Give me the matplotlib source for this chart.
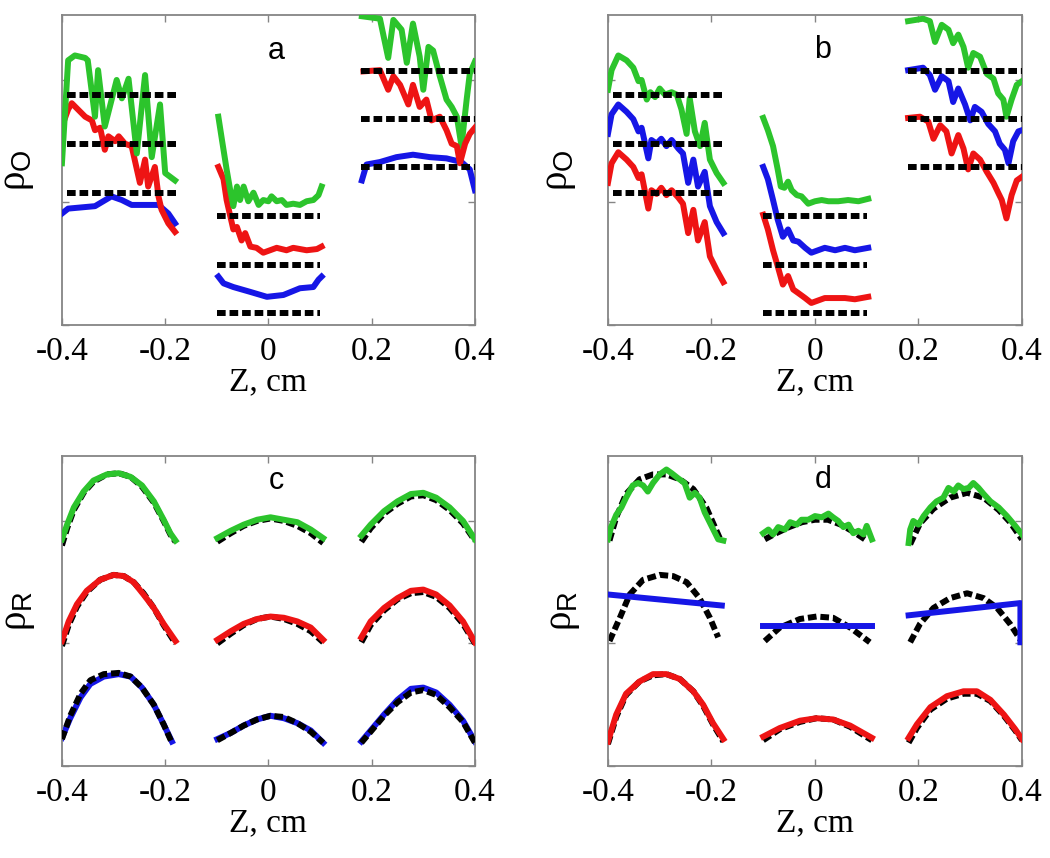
import matplotlib
matplotlib.use("Agg")
import matplotlib.pyplot as plt

plt.rcParams["font.family"] = ["Liberation Serif", "DejaVu Serif"]
plt.rcParams["mathtext.fontset"] = "custom"
plt.rcParams["mathtext.sf"] = "Liberation Sans"
plt.rcParams["mathtext.rm"] = "Liberation Serif"

# ── colours / axis ticks ──────────────────────────────────────────────────────
GREEN = "#2cc42c"
RED = "#ee1414"
BLUE = "#1616e6"
FRAME = "#858585"

Z_TICKS = [-0.4, -0.2, 0.0, 0.2, 0.4]
Z_TICK_LABELS = ["-0.4", "-0.2", "0", "0.2", "0.4"]

# ── dashed reference levels (panels a, b) ────────────────────────────────────
DASH_LEFT_Z = [-0.39, -0.18]
DASH_MID_Z = [-0.10, 0.10]
DASH_RIGHT_Z = [0.18, 0.40]
LEVELS_LEFT = [1.88, 1.48, 1.08]
LEVELS_MID = [0.89, 0.49, 0.095]
LEVELS_RIGHT = [2.07, 1.68, 1.29]

# ── panel a ──────────────────────────────────────────────────────────────────
a_green_left_z = [-0.400, -0.388, -0.375, -0.355, -0.350, -0.336, -0.330, -0.317, -0.294,
                  -0.284, -0.271, -0.255, -0.239, -0.226, -0.210, -0.200, -0.181]
a_green_left = [1.32, 2.16, 2.20, 2.18, 2.16, 1.70, 2.08, 1.62, 2.00,
                1.85, 2.01, 1.40, 2.04, 1.37, 1.80, 1.24, 1.18]
a_red_left_z = [-0.400, -0.388, -0.381, -0.355, -0.342, -0.336, -0.326, -0.317, -0.310, -0.297,
                -0.290, -0.278, -0.265, -0.249, -0.239, -0.233, -0.220, -0.213, -0.207, -0.194, -0.181]
a_red_left = [1.62, 1.76, 1.81, 1.70, 1.67, 1.59, 1.61, 1.43, 1.54, 1.50,
              1.54, 1.48, 1.46, 1.16, 1.35, 1.13, 1.29, 1.05, 0.94, 0.83, 0.76]
a_blue_left_z = [-0.400, -0.388, -0.336, -0.304, -0.284, -0.265, -0.213, -0.194, -0.181]
a_blue_left = [0.91, 0.95, 0.97, 1.05, 1.02, 0.98, 0.98, 0.91, 0.83]

a_green_mid_z = [-0.097, -0.090, -0.081, -0.074, -0.068, -0.061, -0.055, -0.048, -0.039, -0.029,
                 -0.019, -0.010, 0.000, 0.006, 0.016, 0.026, 0.035, 0.048, 0.061, 0.074,
                 0.087, 0.097, 0.103]
a_green_mid = [1.70, 1.51, 1.27, 1.10, 0.97, 1.13, 1.02, 1.13, 1.01, 1.08,
               0.98, 1.02, 1.01, 1.05, 1.01, 1.02, 0.98, 0.99, 0.98, 1.01,
               1.02, 1.06, 1.13]
a_red_mid_z = [-0.097, -0.087, -0.081, -0.074, -0.068, -0.061, -0.052, -0.045, -0.035,
               -0.023, -0.010, 0.003, 0.016, 0.035, 0.048, 0.074, 0.094, 0.103]
a_red_mid = [1.29, 1.19, 1.02, 0.89, 0.78, 0.80, 0.69, 0.75, 0.64,
             0.63, 0.59, 0.61, 0.63, 0.61, 0.63, 0.61, 0.62, 0.64]
a_blue_mid_z = [-0.097, -0.087, -0.068, -0.035, -0.003, 0.029, 0.061, 0.087, 0.097, 0.103]
a_blue_mid = [0.395, 0.34, 0.31, 0.27, 0.23, 0.245, 0.30, 0.31, 0.37, 0.395]

a_green_right_z = [0.181, 0.216, 0.232, 0.242, 0.258, 0.268, 0.280, 0.293, 0.300, 0.310,
                   0.319, 0.332, 0.345, 0.355, 0.365, 0.374, 0.384, 0.390, 0.400]
a_green_right = [2.52, 2.50, 2.18, 2.49, 2.41, 2.14, 2.46, 2.19, 1.92, 2.27,
                 2.24, 2.03, 1.84, 1.78, 1.70, 1.46, 1.84, 2.05, 2.15]
a_red_right_z = [0.184, 0.216, 0.232, 0.242, 0.255, 0.271, 0.280, 0.293, 0.306, 0.316,
                 0.332, 0.345, 0.355, 0.365, 0.371, 0.381, 0.390, 0.400]
a_red_right = [2.07, 2.08, 1.92, 2.03, 1.96, 1.80, 1.96, 1.78, 1.84, 1.67,
               1.70, 1.59, 1.48, 1.46, 1.32, 1.48, 1.56, 1.61]
a_blue_right_z = [0.181, 0.190, 0.216, 0.248, 0.280, 0.313, 0.345, 0.374, 0.390, 0.400]
a_blue_right = [1.18, 1.31, 1.33, 1.37, 1.39, 1.37, 1.36, 1.33, 1.27, 1.10]

# ── panel b ──────────────────────────────────────────────────────────────────
b_green_left_z = [-0.400, -0.393, -0.380, -0.364, -0.351, -0.341, -0.335, -0.325, -0.318, -0.309,
                  -0.300, -0.290, -0.277, -0.267, -0.258, -0.248, -0.242, -0.232, -0.222, -0.213,
                  -0.203, -0.190, -0.177]
b_green_left = [1.92, 2.08, 2.20, 2.16, 2.10, 1.99, 2.00, 1.84, 1.90, 1.86,
                1.93, 1.88, 1.90, 1.88, 1.76, 1.56, 1.85, 1.58, 1.46, 1.65,
                1.35, 1.24, 1.16]
b_left_z = [-0.400, -0.393, -0.380, -0.364, -0.351, -0.341, -0.335, -0.322, -0.316, -0.306, -0.297,
            -0.287, -0.277, -0.264, -0.255, -0.245, -0.235, -0.226, -0.213, -0.203, -0.190, -0.177]
b_blue_left = [1.56, 1.72, 1.80, 1.74, 1.68, 1.58, 1.61, 1.36, 1.51, 1.48, 1.52,
               1.46, 1.51, 1.44, 1.40, 1.16, 1.35, 1.13, 1.25, 0.97, 0.84, 0.75]
b_red_left = [1.16, 1.32, 1.41, 1.35, 1.29, 1.20, 1.23, 0.95, 1.10, 1.07, 1.12,
              1.06, 1.10, 1.04, 0.99, 0.75, 0.94, 0.69, 0.84, 0.56, 0.45, 0.35]

b_green_mid_z = [-0.100, -0.091, -0.081, -0.072, -0.066, -0.059, -0.052, -0.045, -0.035,
                 -0.026, -0.013, 0.000, 0.013, 0.026, 0.045, 0.064, 0.084, 0.103]
b_green_mid = [1.69, 1.59, 1.46, 1.27, 1.13, 1.12, 1.17, 1.10, 1.06,
               1.05, 0.99, 1.01, 1.02, 1.01, 1.01, 1.02, 1.01, 1.03]
b_mid_z = [-0.100, -0.091, -0.081, -0.072, -0.062, -0.052, -0.042, -0.032,
           -0.019, -0.007, 0.006, 0.019, 0.039, 0.058, 0.077, 0.103]
b_blue_mid = [1.29, 1.19, 1.02, 0.86, 0.72, 0.78, 0.69, 0.68,
              0.63, 0.59, 0.61, 0.63, 0.61, 0.63, 0.61, 0.63]
b_red_mid = [0.90, 0.78, 0.61, 0.48, 0.33, 0.40, 0.29, 0.26,
             0.22, 0.18, 0.20, 0.22, 0.22, 0.22, 0.21, 0.23]

b_green_right_z = [0.180, 0.209, 0.222, 0.232, 0.245, 0.258, 0.267, 0.277, 0.287, 0.296,
                   0.306, 0.319, 0.332, 0.345, 0.354, 0.364, 0.370, 0.380, 0.390, 0.400]
b_green_right = [2.48, 2.50, 2.48, 2.31, 2.45, 2.41, 2.30, 2.37, 2.27, 2.10,
                 2.22, 2.19, 2.05, 2.01, 1.89, 1.84, 1.70, 1.84, 1.96, 1.99]
b_blue_right_z = [0.180, 0.209, 0.222, 0.232, 0.245, 0.258, 0.267, 0.277, 0.290, 0.300,
                  0.309, 0.322, 0.335, 0.348, 0.357, 0.367, 0.374, 0.383, 0.393, 0.400]
b_blue_right = [2.08, 2.10, 2.04, 1.92, 2.03, 1.99, 1.82, 1.93, 1.80, 1.67,
                1.78, 1.74, 1.64, 1.58, 1.48, 1.43, 1.32, 1.50, 1.58, 1.59]
b_red_right_z = [0.180, 0.203, 0.219, 0.229, 0.242, 0.254, 0.264, 0.277, 0.287, 0.296,
                 0.306, 0.319, 0.332, 0.345, 0.354, 0.361, 0.370, 0.380, 0.390, 0.400]
b_red_right = [1.69, 1.70, 1.66, 1.52, 1.63, 1.58, 1.40, 1.55, 1.44, 1.27,
               1.40, 1.35, 1.25, 1.16, 1.08, 1.02, 0.87, 1.06, 1.18, 1.21]

# ── panel c (measured, fit) ──────────────────────────────────────────────────
c_green_left_z = [-0.400, -0.390, -0.377, -0.358, -0.339, -0.313, -0.290, -0.267, -0.245,
                  -0.222, -0.203, -0.190, -0.180]
c_green_left = [1.85, 1.97, 2.11, 2.24, 2.33, 2.38, 2.39, 2.36, 2.29, 2.16, 2.01, 1.90, 1.84]
c_green_left_fit = [1.80, 1.94, 2.09, 2.23, 2.32, 2.38, 2.39, 2.36, 2.28, 2.15, 2.00, 1.89, 1.83]
c_red_left_z = [-0.400, -0.387, -0.371, -0.352, -0.326, -0.300, -0.280, -0.261, -0.242,
                -0.222, -0.203, -0.180]
c_red_left = [1.02, 1.18, 1.32, 1.43, 1.52, 1.56, 1.55, 1.50, 1.40, 1.29, 1.16, 1.02]
c_red_left_fit = [0.98, 1.15, 1.30, 1.42, 1.52, 1.56, 1.55, 1.50, 1.41, 1.29, 1.15, 1.00]
c_blue_left_z = [-0.400, -0.384, -0.364, -0.345, -0.319, -0.290, -0.267, -0.245, -0.222,
                 -0.203, -0.187]
c_blue_left = [0.23, 0.39, 0.56, 0.67, 0.73, 0.75, 0.73, 0.64, 0.50, 0.34, 0.20]
c_blue_left_fit = [0.22, 0.41, 0.59, 0.70, 0.75, 0.76, 0.73, 0.64, 0.50, 0.34, 0.19]

c_mid_z = [-0.099, -0.073, -0.048, -0.022, 0.004, 0.030, 0.056, 0.082, 0.106]
c_green_mid = [1.86, 1.92, 1.97, 2.01, 2.03, 2.01, 1.99, 1.93, 1.86]
c_green_mid_fit = [1.83, 1.90, 1.96, 2.00, 2.02, 2.00, 1.96, 1.90, 1.82]
c_red_mid = [1.03, 1.10, 1.16, 1.20, 1.22, 1.21, 1.18, 1.13, 1.03]
c_red_mid_fit = [1.00, 1.08, 1.15, 1.20, 1.22, 1.20, 1.16, 1.10, 1.01]
c_blue_mid = [0.22, 0.27, 0.33, 0.38, 0.41, 0.39, 0.35, 0.29, 0.19]
c_blue_mid_fit = [0.21, 0.27, 0.33, 0.38, 0.41, 0.40, 0.35, 0.28, 0.19]

c_right_z = [0.180, 0.198, 0.224, 0.250, 0.276, 0.300, 0.325, 0.351, 0.377, 0.400]
c_green_right = [1.88, 1.97, 2.08, 2.16, 2.22, 2.23, 2.19, 2.11, 2.00, 1.85]
c_green_right_fit = [1.83, 1.94, 2.06, 2.14, 2.20, 2.21, 2.17, 2.09, 1.98, 1.84]
c_red_right = [1.05, 1.18, 1.29, 1.37, 1.43, 1.44, 1.40, 1.31, 1.18, 1.01]
c_red_right_fit = [1.01, 1.15, 1.27, 1.36, 1.41, 1.42, 1.38, 1.29, 1.16, 1.00]
c_blue_right = [0.20, 0.29, 0.42, 0.54, 0.63, 0.64, 0.60, 0.50, 0.37, 0.20]
c_blue_right_fit = [0.19, 0.28, 0.41, 0.52, 0.60, 0.62, 0.58, 0.48, 0.36, 0.19]

# ── panel d (measured, fit) ──────────────────────────────────────────────────
d_green_left_z = [-0.400, -0.394, -0.384, -0.374, -0.365, -0.352, -0.342, -0.332, -0.323, -0.313,
                  -0.300, -0.287, -0.277, -0.265, -0.252, -0.242, -0.232, -0.223, -0.213, -0.200,
                  -0.187, -0.177]
d_green_left = [1.85, 1.95, 2.05, 2.11, 2.19, 2.29, 2.31, 2.29, 2.24, 2.31,
                2.38, 2.42, 2.39, 2.35, 2.31, 2.19, 2.23, 2.19, 2.07, 1.96,
                1.85, 1.84]
d_green_left_fit_z = [-0.397, -0.384, -0.365, -0.339, -0.313, -0.287, -0.261, -0.235, -0.210, -0.184]
d_green_left_fit = [1.84, 2.03, 2.22, 2.34, 2.38, 2.38, 2.34, 2.26, 2.11, 1.86]

d_green_mid_z = [-0.100, -0.090, -0.081, -0.071, -0.058, -0.048, -0.035, -0.026, -0.013, 0.000,
                 0.013, 0.026, 0.035, 0.045, 0.055, 0.065, 0.074, 0.084, 0.094, 0.100, 0.110]
d_green_mid = [1.90, 1.93, 1.89, 1.95, 1.93, 1.99, 1.97, 2.01, 2.01, 2.04,
               2.03, 2.06, 2.03, 2.00, 1.95, 1.97, 1.90, 1.92, 1.89, 1.96, 1.85]
d_green_mid_fit_z = [-0.097, -0.075, -0.050, -0.025, 0.000, 0.025, 0.050, 0.075, 0.100]
d_green_mid_fit = [1.85, 1.90, 1.95, 1.99, 2.01, 2.01, 1.97, 1.91, 1.84]

d_green_right_z = [0.181, 0.184, 0.190, 0.200, 0.210, 0.223, 0.235, 0.248, 0.258, 0.268, 0.277,
                   0.287, 0.297, 0.306, 0.316, 0.326, 0.339, 0.355, 0.371, 0.387, 0.400]
d_green_right = [1.82, 1.93, 2.00, 1.97, 2.04, 2.11, 2.16, 2.19, 2.27, 2.24, 2.29,
                 2.26, 2.27, 2.31, 2.27, 2.22, 2.16, 2.11, 2.04, 1.96, 1.89]
d_green_right_fit_z = [0.184, 0.203, 0.229, 0.261, 0.294, 0.326, 0.355, 0.377, 0.400]
d_green_right_fit = [1.81, 1.98, 2.10, 2.19, 2.23, 2.19, 2.09, 1.99, 1.85]

d_blue_left_z = [-0.400, -0.180]
d_blue_left = [1.40, 1.31]
d_blue_mid_z = [-0.100, 0.110]
d_blue_mid = [1.14, 1.14]
d_blue_right_z = [0.181, 0.397, 0.397]
d_blue_right = [1.23, 1.33, 1.01]

d_blue_left_fit_z = [-0.397, -0.377, -0.358, -0.332, -0.300, -0.274, -0.248, -0.223, -0.203, -0.187]
d_blue_left_fit = [1.02, 1.21, 1.40, 1.52, 1.56, 1.55, 1.50, 1.37, 1.21, 1.05]
d_blue_mid_fit_z = [-0.097, -0.068, -0.029, 0.003, 0.035, 0.068, 0.106]
d_blue_mid_fit = [1.02, 1.13, 1.20, 1.22, 1.21, 1.13, 1.01]
d_blue_right_fit_z = [0.184, 0.203, 0.229, 0.261, 0.294, 0.326, 0.352, 0.377, 0.397]
d_blue_right_fit = [1.01, 1.16, 1.29, 1.37, 1.41, 1.37, 1.29, 1.16, 1.03]

d_red_left_z = [-0.400, -0.384, -0.365, -0.339, -0.313, -0.287, -0.261, -0.235, -0.216, -0.197, -0.177]
d_red_left = [0.20, 0.42, 0.59, 0.69, 0.75, 0.75, 0.71, 0.61, 0.50, 0.35, 0.22]
d_red_left_fit = [0.18, 0.40, 0.58, 0.69, 0.74, 0.75, 0.71, 0.61, 0.49, 0.34, 0.20]
d_red_mid_z = [-0.100, -0.068, -0.029, 0.003, 0.035, 0.068, 0.110]
d_red_mid = [0.24, 0.31, 0.37, 0.39, 0.38, 0.33, 0.23]
d_red_mid_fit = [0.21, 0.30, 0.36, 0.39, 0.38, 0.32, 0.21]
d_red_right_z = [0.181, 0.197, 0.223, 0.255, 0.287, 0.313, 0.339, 0.365, 0.387, 0.400]
d_red_right = [0.23, 0.34, 0.48, 0.57, 0.61, 0.61, 0.54, 0.42, 0.30, 0.22]
d_red_right_fit = [0.19, 0.31, 0.46, 0.55, 0.59, 0.59, 0.53, 0.41, 0.29, 0.21]

LW = 4.3
DASHES = (1.45, 0.65)


def solid(ax, z, v, color, zorder=3):
    ax.plot(z, v, color=color, lw=LW, solid_joinstyle="round", zorder=zorder)


def dashed(ax, z, v, zorder=2):
    ax.plot(z, v, color="black", lw=LW, dashes=DASHES, zorder=zorder)


def style_axes(ax, ylabel, label_x, letter, letter_y):
    ax.set_xlim(-0.4, 0.4)
    ax.set_ylim(0, 2.53)
    ax.set_xticks(Z_TICKS)
    ax.set_xticklabels(Z_TICK_LABELS)
    ax.set_yticks([0, 1, 2])
    ax.set_yticklabels([])
    ax.tick_params(direction="in", top=True, right=True, length=5, width=1,
                   color=FRAME, labelsize=24, pad=8)
    for sp in ax.spines.values():
        sp.set_color(FRAME)
        sp.set_linewidth(1.3)
    ax.set_xlabel("Z, cm", fontsize=24, labelpad=0)
    ax.set_ylabel(ylabel, fontsize=28)
    ax.yaxis.set_label_coords(label_x, 0.5)
    ax.text(0.015, letter_y, letter, fontsize=22, family="Liberation Sans",
            ha="center", va="baseline")


fig = plt.figure(figsize=(10.5, 8.58), dpi=100)
ax_a = fig.add_axes([0.059, 0.6212, 0.3933, 0.3613])
ax_b = fig.add_axes([0.579, 0.6212, 0.3943, 0.3613])
ax_c = fig.add_axes([0.059, 0.1072, 0.3933, 0.3613])
ax_d = fig.add_axes([0.579, 0.1072, 0.3943, 0.3613])

# ── a, b: dashed levels on top ──
for ax in (ax_a, ax_b):
    for lv in LEVELS_LEFT:
        dashed(ax, DASH_LEFT_Z, [lv, lv], zorder=4)
    for lv in LEVELS_MID:
        dashed(ax, DASH_MID_Z, [lv, lv], zorder=4)
    for lv in LEVELS_RIGHT:
        dashed(ax, DASH_RIGHT_Z, [lv, lv], zorder=4)

solid(ax_a, a_blue_left_z, a_blue_left, BLUE)
solid(ax_a, a_red_left_z, a_red_left, RED)
solid(ax_a, a_green_left_z, a_green_left, GREEN)
solid(ax_a, a_blue_mid_z, a_blue_mid, BLUE)
solid(ax_a, a_red_mid_z, a_red_mid, RED)
solid(ax_a, a_green_mid_z, a_green_mid, GREEN)
solid(ax_a, a_blue_right_z, a_blue_right, BLUE)
solid(ax_a, a_green_right_z, a_green_right, GREEN)
solid(ax_a, a_red_right_z, a_red_right, RED)

solid(ax_b, b_green_left_z, b_green_left, GREEN)
solid(ax_b, b_left_z, b_blue_left, BLUE)
solid(ax_b, b_left_z, b_red_left, RED)
solid(ax_b, b_green_mid_z, b_green_mid, GREEN)
solid(ax_b, b_mid_z, b_blue_mid, BLUE)
solid(ax_b, b_mid_z, b_red_mid, RED)
solid(ax_b, b_green_right_z, b_green_right, GREEN)
solid(ax_b, b_blue_right_z, b_blue_right, BLUE)
solid(ax_b, b_red_right_z, b_red_right, RED)

# ── c ──
for z, v, fit, col in [
    (c_green_left_z, c_green_left, c_green_left_fit, GREEN),
    (c_red_left_z, c_red_left, c_red_left_fit, RED),
    (c_mid_z, c_green_mid, c_green_mid_fit, GREEN),
    (c_mid_z, c_red_mid, c_red_mid_fit, RED),
    (c_right_z, c_green_right, c_green_right_fit, GREEN),
    (c_right_z, c_red_right, c_red_right_fit, RED),
]:
    dashed(ax_c, z, fit, zorder=2)
    solid(ax_c, z, v, col, zorder=3)
for z, v, fit in [
    (c_blue_left_z, c_blue_left, c_blue_left_fit),
    (c_mid_z, c_blue_mid, c_blue_mid_fit),
    (c_right_z, c_blue_right, c_blue_right_fit),
]:
    solid(ax_c, z, v, BLUE, zorder=2)
    dashed(ax_c, z, fit, zorder=3)

# ── d ──
dashed(ax_d, d_green_left_fit_z, d_green_left_fit)
dashed(ax_d, d_green_mid_fit_z, d_green_mid_fit)
dashed(ax_d, d_green_right_fit_z, d_green_right_fit)
solid(ax_d, d_green_left_z, d_green_left, GREEN)
solid(ax_d, d_green_mid_z, d_green_mid, GREEN)
solid(ax_d, d_green_right_z, d_green_right, GREEN)

dashed(ax_d, d_blue_left_fit_z, d_blue_left_fit)
dashed(ax_d, d_blue_mid_fit_z, d_blue_mid_fit)
dashed(ax_d, d_blue_right_fit_z, d_blue_right_fit)
solid(ax_d, d_blue_left_z, d_blue_left, BLUE)
solid(ax_d, d_blue_mid_z, d_blue_mid, BLUE)
solid(ax_d, d_blue_right_z, d_blue_right, BLUE)

dashed(ax_d, d_red_left_z, d_red_left_fit)
dashed(ax_d, d_red_mid_z, d_red_mid_fit)
dashed(ax_d, d_red_right_z, d_red_right_fit)
solid(ax_d, d_red_left_z, d_red_left, RED)
solid(ax_d, d_red_mid_z, d_red_mid, RED)
solid(ax_d, d_red_right_z, d_red_right, RED)

style_axes(ax_a, "ρ$_{\\mathsf{O}}$", -0.062, "a", 2.17)
style_axes(ax_b, "ρ$_{\\mathsf{O}}$", -0.072, "b", 2.18)
style_axes(ax_c, "ρ$_{\\mathsf{R}}$", -0.060, "c", 2.26)
style_axes(ax_d, "ρ$_{\\mathsf{R}}$", -0.063, "d", 2.27)

fig.savefig("out.png", dpi=100)
